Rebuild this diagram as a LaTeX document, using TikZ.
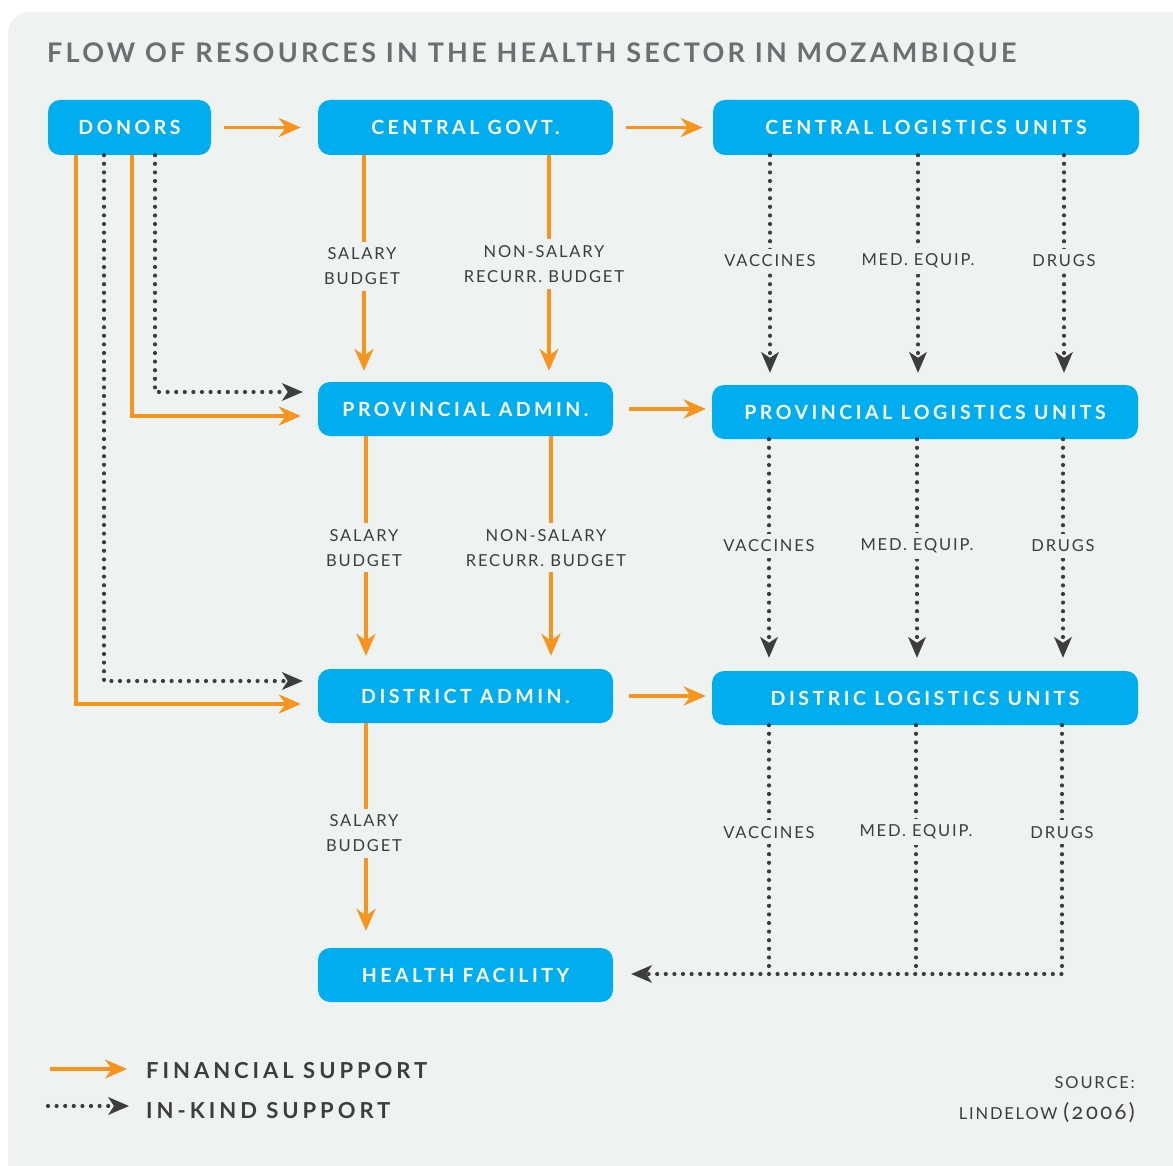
\documentclass[tikz,border=0pt]{standalone}
\usepackage{fontspec}
\setmainfont{Lato}
\usetikzlibrary{arrows.meta}
\definecolor{bgc}{HTML}{EEF2F1}
\definecolor{boxc}{HTML}{00AEEF}
\definecolor{finc}{HTML}{F7941D}
\definecolor{kindc}{HTML}{3D3D3D}
\definecolor{titlec}{HTML}{6D6E71}
\newfontfamily\boxfont[LetterSpace=18]{Lato Bold}
\newfontfamily\titlefont[LetterSpace=12]{Lato Bold}
\newfontfamily\legfont[LetterSpace=18]{Lato Bold}
\newfontfamily\lblfont[LetterSpace=11]{Lato}
\newfontfamily\srcfont[LetterSpace=11,Numbers=OldStyle]{Lato}
\begin{document}
\begin{tikzpicture}[x=1pt,y=-1pt,
  unit/.style={fill=boxc,rounded corners=12pt,text=white,font=\boxfont\fontsize{19.5}{21}\selectfont,
    inner sep=0pt,minimum height=55pt},
  fin/.style={draw=finc,line width=3.5pt,-{Stealth[length=22pt,width=19pt,inset=7pt]}},
  kind/.style={draw=kindc,line width=4.2pt,line cap=round,dash pattern=on 0pt off 8.6pt,
    -{Stealth[length=21pt,width=18pt,inset=6pt,line cap=butt,line width=0pt,sep=-2pt]}},
  kindline/.style={draw=kindc,line width=4.2pt,line cap=round,dash pattern=on 0pt off 8.6pt},
  lbl/.style={fill=bgc,text=kindc,font=\lblfont\fontsize{16.5}{25}\selectfont,align=center,
    inner xsep=2pt,inner ysep=6pt},
  legend/.style={anchor=west,text=kindc,font=\legfont\fontsize{22}{24}\selectfont,inner sep=0pt}]
\useasboundingbox (0,0) rectangle (1173,1166);
\begin{scope}
  \clip (0,0) rectangle (1173,1166);
  \fill[bgc,rounded corners=22pt] (8,12) rectangle (1200,1200);
\end{scope}

% title
\node[anchor=base west,inner sep=0pt,text=titlec,font=\titlefont\fontsize{27}{30}\selectfont]
  (title) at (47,63) {FLOW OF RESOURCES IN THE HEALTH SECTOR IN MOZAMBIQUE};

% units
\node[unit,minimum width=163pt] (donors) at (129.5,127.5) {DONORS};
\node[unit,minimum width=295pt] (cgov) at (465.5,127.5) {CENTRAL GOVT.};
\node[unit,minimum width=426pt] (clu) at (926,127.5) {CENTRAL LOGISTICS UNITS};
\node[unit,minimum width=295pt,minimum height=54pt] (prov) at (465.5,409) {PROVINCIAL ADMIN.};
\node[unit,minimum width=426pt,minimum height=54pt] (plu) at (925,412) {PROVINCIAL LOGISTICS UNITS};
\node[unit,minimum width=295pt,minimum height=54pt] (dist) at (465.5,696) {DISTRICT ADMIN.};
\node[unit,minimum width=426pt,minimum height=54pt] (dlu) at (925,698) {DISTRIC LOGISTICS UNITS};
\node[unit,minimum width=295pt,minimum height=54pt] (hf) at (465.5,975) {HEALTH FACILITY};

% horizontal financial flows
\draw[fin,shorten <=13pt,shorten >=17pt] (donors) -- (cgov);
\draw[fin,shorten <=13pt,shorten >=10pt] (cgov) -- (clu);
\draw[fin,shorten <=16pt,shorten >=6pt] (prov.east) -- (plu.west |- prov.east);
\draw[fin,shorten <=16pt,shorten >=6pt] (dist.east) -- (dlu.west |- dist.east);

% budgets
\draw[fin,shorten >=11pt] (364,0 |- cgov.south) -- node[lbl,pos=0.49,xshift=-2pt]{SALARY\\BUDGET} (364,0 |- prov.north);
\draw[fin,shorten >=11pt] (549,0 |- cgov.south) -- node[lbl,pos=0.48,xshift=-5pt]{NON-SALARY\\RECURR. BUDGET} (549,0 |- prov.north);
\draw[fin,shorten >=13pt] (366,0 |- prov.south) -- node[lbl,pos=0.48,xshift=-2pt]{SALARY\\BUDGET} (366,0 |- dist.north);
\draw[fin,shorten >=13pt] (551,0 |- prov.south) -- node[lbl,pos=0.48,xshift=-5pt]{NON-SALARY\\RECURR. BUDGET} (551,0 |- dist.north);
\draw[fin,shorten >=17pt] (366,0 |- dist.south) -- node[lbl,pos=0.49,xshift=-2pt]{SALARY\\BUDGET} (366,0 |- hf.north);

% donor support to lower levels
\draw[fin,shorten >=17pt] (76,0 |- donors.south) |- (dist.west |- 0,704);
\draw[kind,shorten >=17pt] (104,0 |- donors.south) |- (dist.west |- 0,681);
\draw[fin,shorten >=17pt] (132,0 |- donors.south) |- (prov.west |- 0,416);
\draw[kind,shorten >=17pt] (155,0 |- donors.south) |- (prov.west |- 0,392);

% in-kind supplies, central to provincial
\draw[kind,shorten >=14pt] (770,0 |- clu.south) -- node[lbl,pos=0.46]{VACCINES} (770,0 |- plu.north);
\draw[kind,shorten >=14pt] (918,0 |- clu.south) -- node[lbl,pos=0.46]{MED. EQUIP.} (918,0 |- plu.north);
\draw[kind,shorten >=14pt] (1064,0 |- clu.south) -- node[lbl,pos=0.46]{DRUGS} (1064,0 |- plu.north);

% in-kind supplies, provincial to district
\draw[kind,shorten >=15pt] (769,0 |- plu.south) -- node[lbl,pos=0.46]{VACCINES} (769,0 |- dlu.north);
\draw[kind,shorten >=15pt] (917,0 |- plu.south) -- node[lbl,pos=0.46]{MED. EQUIP.} (917,0 |- dlu.north);
\draw[kind,shorten >=15pt] (1063,0 |- plu.south) -- node[lbl,pos=0.46]{DRUGS} (1063,0 |- dlu.north);

% in-kind supplies, district to health facility
\coordinate (jv) at (769,974);
\coordinate (jm) at (916,974);
\draw[kindline] (769,0 |- dlu.south) -- node[lbl,pos=0.43]{VACCINES} (jv);
\draw[kindline] (916,0 |- dlu.south) -- node[lbl,pos=0.43]{MED. EQUIP.} (jm);
\draw[kind,shorten >=20pt] (1062,0 |- dlu.south) |- node[lbl,pos=0.215]{DRUGS} (hf.east |- jv);

% legend
\coordinate (fa) at (50,1069);
\coordinate (fb) at (127,1069);
\coordinate (ka) at (48,1106);
\coordinate (kb) at (127,1106);
\draw[fin] (fa) -- (fb);
\draw[kind] (ka) -- (kb);
\node[legend] (lfin) at (146,1071) {FINANCIAL SUPPORT};
\node[legend] (lkind) at (146,1111) {IN-KIND SUPPORT};

% source
\node[anchor=base east,inner sep=0pt,text=kindc,font=\srcfont\fontsize{16.5}{20}\selectfont]
  (src1) at (1135,1088) {SOURCE:};
\node[anchor=base east,inner sep=0pt,text=kindc,font=\srcfont\fontsize{16.5}{20}\selectfont]
  (src2) at (1135,1119) {LINDELOW {\fontsize{22}{22}\selectfont(2006)}};
\end{tikzpicture}
\end{document}
